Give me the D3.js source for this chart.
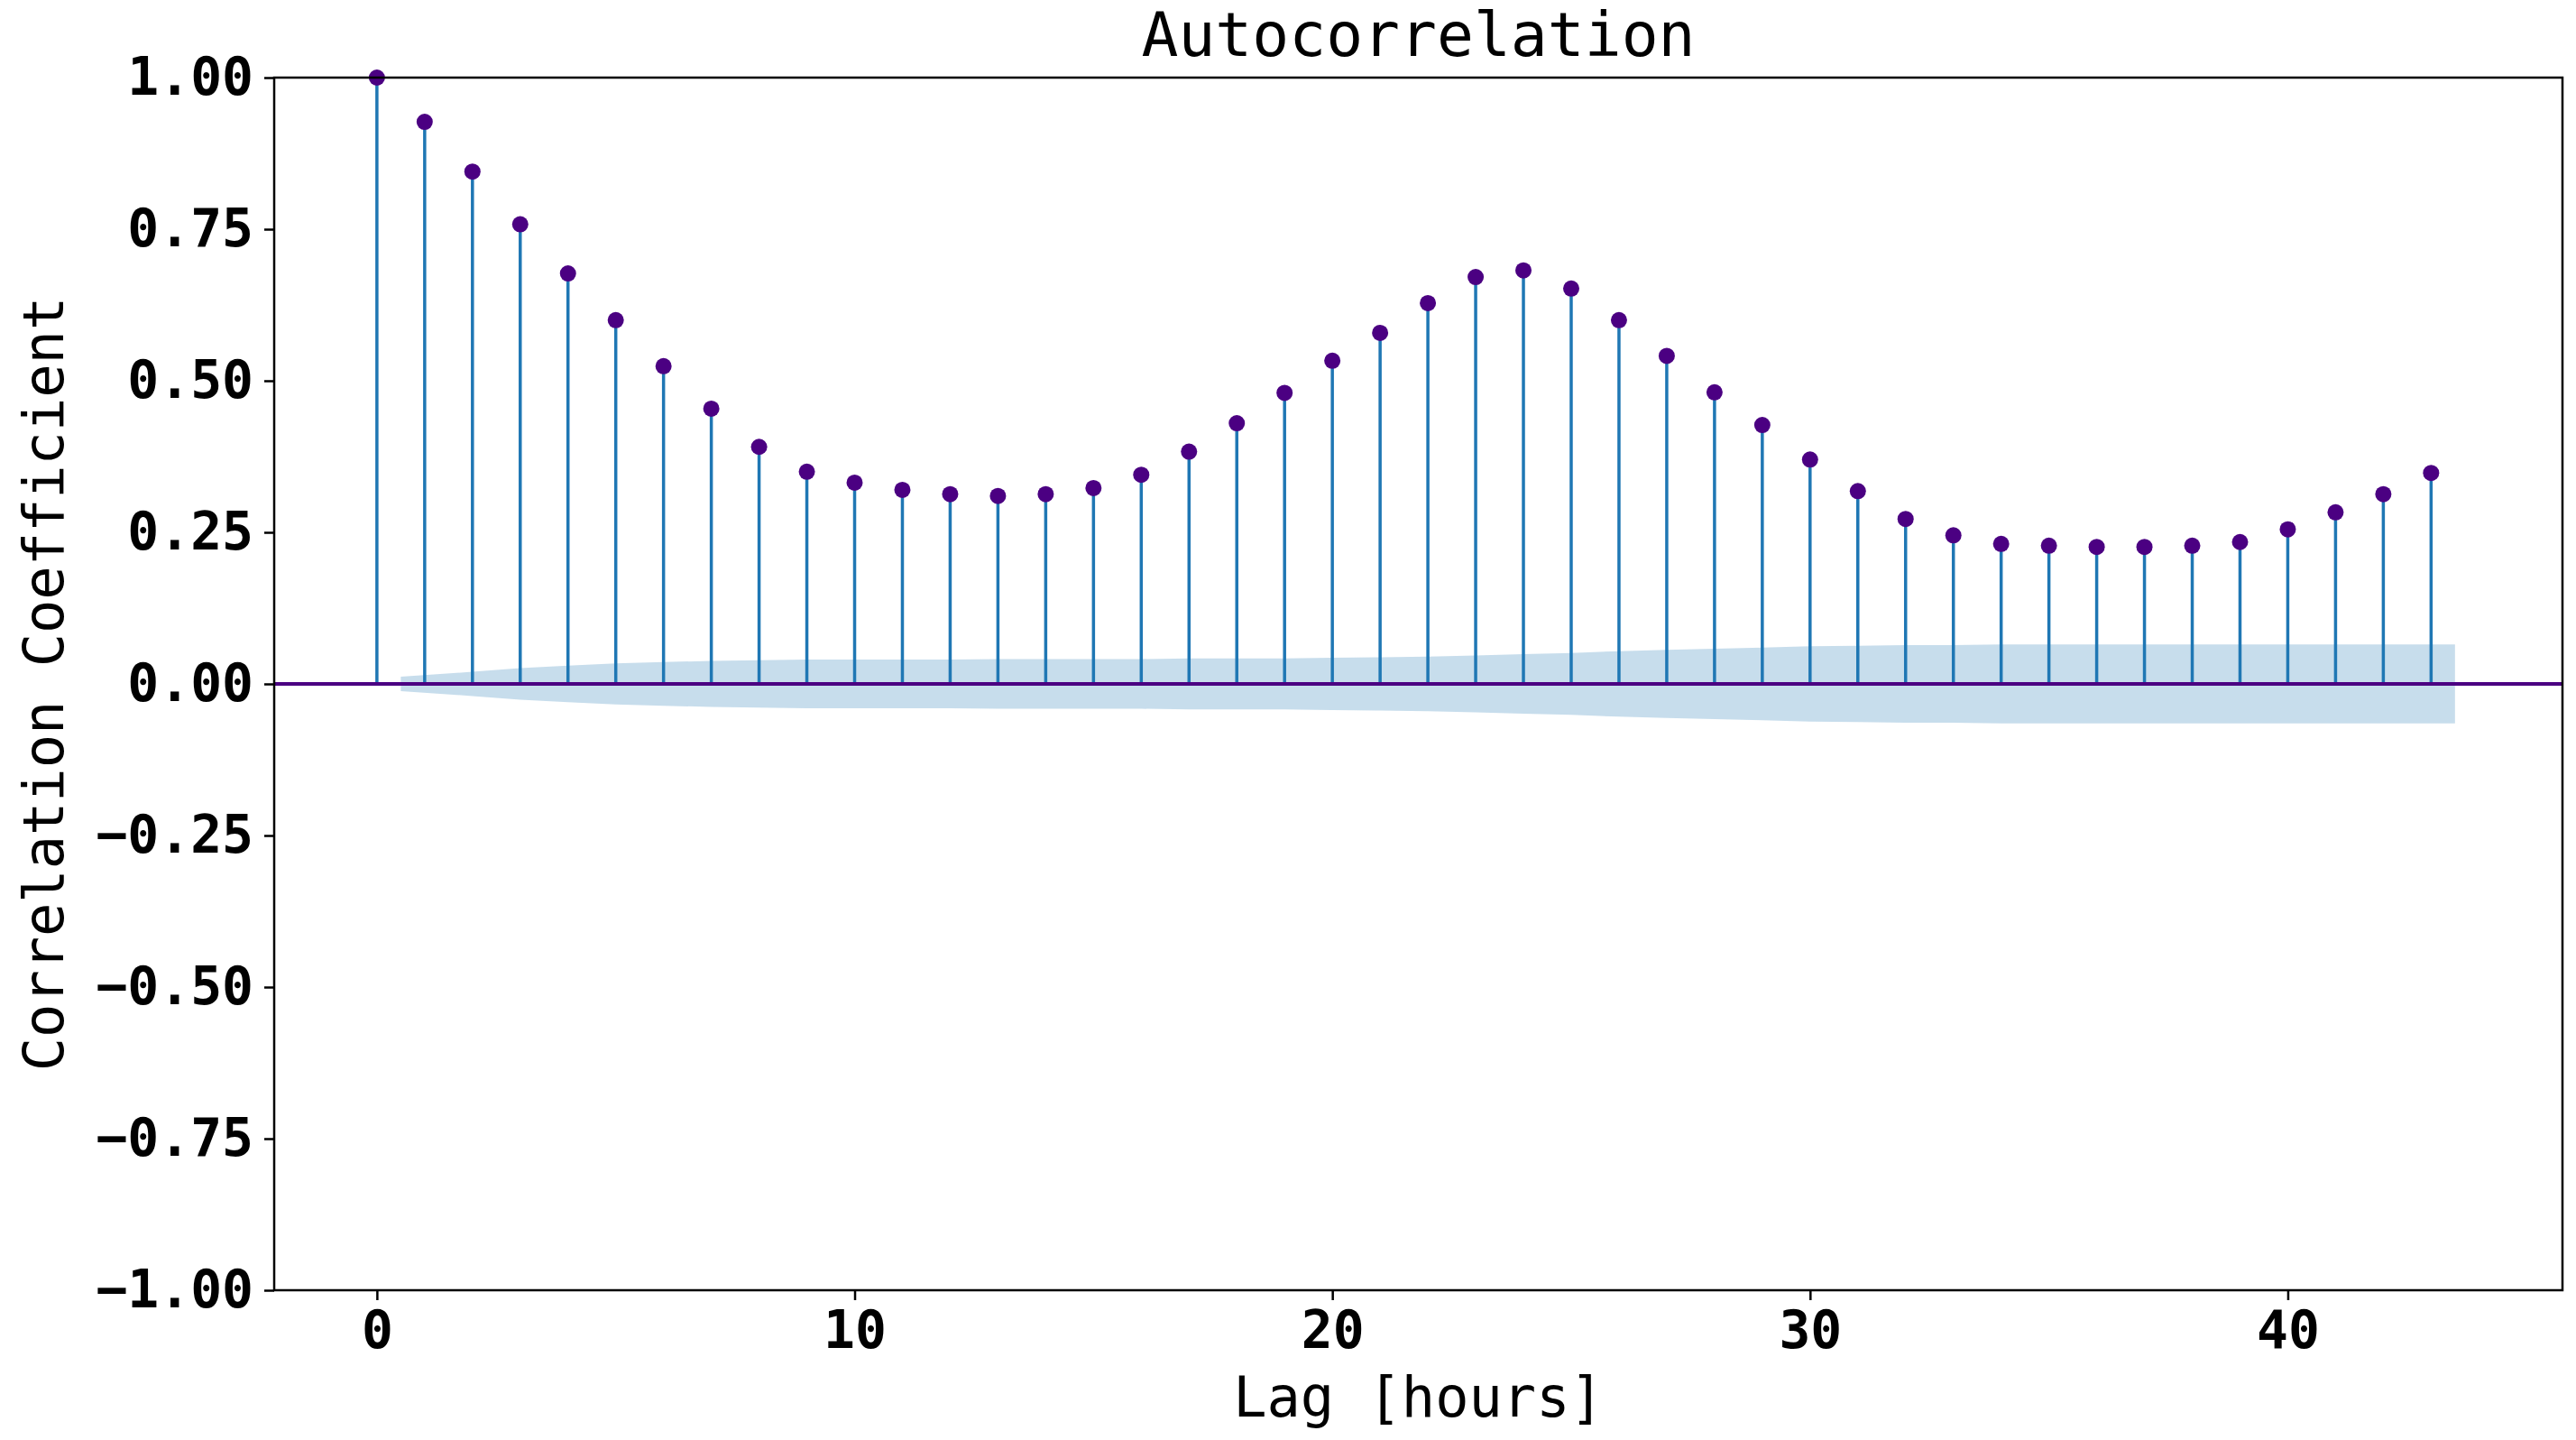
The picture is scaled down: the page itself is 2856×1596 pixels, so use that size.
<!DOCTYPE html>
<html>
<head>
<meta charset="utf-8">
<script src="https://cdn.jsdelivr.net/npm/d3@7"></script>
<style>
  body { margin: 0; background: #fff; }
  text { font-family: "DejaVu Sans Mono", monospace; }
</style>
</head>
<body>
<svg id="chart" width="2856" height="1596"></svg>
<script>
var lags = d3.range(0, 44);
var acf = [1.0, 0.927, 0.845, 0.758, 0.677, 0.600, 0.524, 0.454, 0.391, 0.350,
  0.332, 0.320, 0.313, 0.310, 0.313, 0.323, 0.345, 0.383, 0.430, 0.480,
  0.533, 0.579, 0.628, 0.671, 0.682, 0.652, 0.600, 0.541, 0.481, 0.427,
  0.370, 0.318, 0.272, 0.245, 0.231, 0.228, 0.226, 0.226, 0.228, 0.234,
  0.255, 0.283, 0.313, 0.348];
// confidence band half-width, lags 1..43
var band = [0.012, 0.020, 0.026, 0.030, 0.034, 0.036, 0.038, 0.039, 0.040, 0.040,
  0.040, 0.040, 0.041, 0.041, 0.041, 0.041, 0.042, 0.042, 0.042, 0.043,
  0.044, 0.045, 0.047, 0.049, 0.051, 0.054, 0.056, 0.058, 0.060, 0.062,
  0.063, 0.064, 0.064, 0.065, 0.065, 0.065, 0.065, 0.065, 0.065, 0.065,
  0.065, 0.065, 0.065];
var yTicks = [-1, -0.75, -0.5, -0.25, 0, 0.25, 0.5, 0.75, 1];
var xTicks = [0, 10, 20, 30, 40];

var m = { left: 304, right: 2841, top: 86, bottom: 1430 };
var svg = d3.select('#chart');

var x = d3.scaleLinear().domain([-2.15, 45.75]).range([m.left, m.right]);
var y = d3.scaleLinear().domain([-1, 1]).range([m.bottom, m.top]);

// confidence band
var bandPts = band.map(function (b, i) { return { lag: i + 1, b: b }; });
bandPts[0] = { lag: 0.5, b: band[0] };
bandPts.push({ lag: 43.5, b: band[band.length - 1] });
svg.append('path')
  .datum(bandPts)
  .attr('fill', '#1f77b4')
  .attr('fill-opacity', 0.25)
  .attr('d', d3.area()
    .x(function (d) { return x(d.lag); })
    .y0(function (d) { return y(-d.b); })
    .y1(function (d) { return y(d.b); }));

// stems
svg.append('g').selectAll('line')
  .data(lags)
  .enter().append('line')
  .attr('x1', function (d) { return x(d); })
  .attr('x2', function (d) { return x(d); })
  .attr('y1', y(0))
  .attr('y2', function (d) { return y(acf[d]); })
  .attr('stroke', '#1f77b4')
  .attr('stroke-width', 3.5);

// zero line
svg.append('line')
  .attr('x1', m.left).attr('x2', m.right)
  .attr('y1', y(0)).attr('y2', y(0))
  .attr('stroke', '#4b0082')
  .attr('stroke-width', 4);

// markers
svg.append('g').selectAll('circle')
  .data(lags)
  .enter().append('circle')
  .attr('cx', function (d) { return x(d); })
  .attr('cy', function (d) { return y(acf[d]); })
  .attr('r', 9)
  .attr('fill', '#4b0082');

// axes
var yAxis = svg.append('g')
  .attr('transform', 'translate(' + m.left + ',0)')
  .call(d3.axisLeft(y).tickValues(yTicks).tickFormat(d3.format('.2f')).tickSize(11).tickPadding(12));
var xAxis = svg.append('g')
  .attr('transform', 'translate(0,' + m.bottom + ')')
  .call(d3.axisBottom(x).tickValues(xTicks).tickSize(11).tickPadding(12));
[xAxis, yAxis].forEach(function (a) {
  a.select('.domain').remove();
  a.selectAll('line').attr('stroke', '#000').attr('stroke-width', 2.5);
  a.selectAll('text')
    .style('font-family', '"DejaVu Sans Mono", monospace')
    .style('font-weight', 'bold')
    .style('font-size', '58px')
    .attr('fill', '#000');
});
yAxis.selectAll('text').text(function (d) { return d3.format('.2f')(d).replace('-', '\u2212'); });

// frame
svg.append('rect')
  .attr('x', m.left).attr('y', m.top)
  .attr('width', m.right - m.left).attr('height', m.bottom - m.top)
  .attr('fill', 'none').attr('stroke', '#000').attr('stroke-width', 2.5);

// labels
svg.append('text')
  .attr('x', (m.left + m.right) / 2).attr('y', 62)
  .attr('text-anchor', 'middle')
  .style('font-size', '68px')
  .text('Autocorrelation');
svg.append('text')
  .attr('x', (m.left + m.right) / 2).attr('y', 1570)
  .attr('text-anchor', 'middle')
  .style('font-size', '62px')
  .text('Lag [hours]');
svg.append('text')
  .attr('transform', 'translate(70,' + ((m.top + m.bottom) / 2) + ') rotate(-90)')
  .attr('text-anchor', 'middle')
  .style('font-size', '62px')
  .text('Correlation Coefficient');
</script>
</body>
</html>
